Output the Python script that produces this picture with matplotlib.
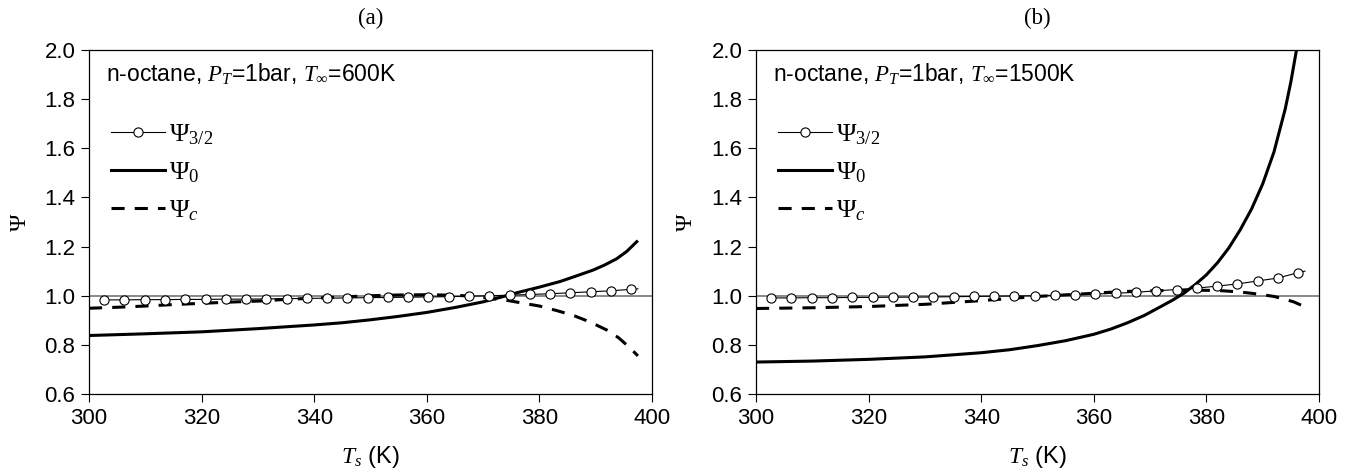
import numpy as np
import matplotlib
matplotlib.use("Agg")
import matplotlib.pyplot as plt

plt.rcParams["font.family"] = ["Liberation Sans", "DejaVu Sans"]
plt.rcParams["mathtext.fontset"] = "custom"
plt.rcParams["mathtext.rm"] = "Liberation Serif"
plt.rcParams["mathtext.it"] = "Liberation Serif:italic"
plt.rcParams["mathtext.bf"] = "Liberation Serif:bold"

# ---- data ----
# marker temperatures for Psi_3/2 (last point = line end, no marker)
t_circ = [302.7, 306.3, 309.9, 313.5, 317.1, 320.7, 324.3, 327.9, 331.5, 335.1,
          338.7, 342.3, 345.9, 349.5, 353.1, 356.7, 360.3, 363.9, 367.5, 371.1,
          374.7, 378.3, 381.9, 385.5, 389.1, 392.7, 396.3, 397.5]

psi32_a = [0.983, 0.983, 0.984, 0.984, 0.985, 0.985, 0.986, 0.986, 0.987, 0.988,
           0.989, 0.990, 0.991, 0.992, 0.993, 0.994, 0.995, 0.996, 0.998, 1.000,
           1.002, 1.005, 1.008, 1.012, 1.016, 1.020, 1.026, 1.028]
psi32_b = [0.991, 0.991, 0.992, 0.992, 0.993, 0.993, 0.994, 0.994, 0.995, 0.996,
           0.997, 0.998, 0.999, 1.000, 1.002, 1.004, 1.007, 1.010, 1.014, 1.020,
           1.025, 1.031, 1.039, 1.048, 1.060, 1.072, 1.094, 1.100]

t0_a = [300, 310, 320, 330, 340, 345, 350, 355, 360, 365, 370, 373, 376, 380,
        383.7, 386, 389.5, 391.5, 393.7, 395.5, 397.3]
psi0_a = [0.838, 0.845, 0.853, 0.866, 0.881, 0.890, 0.902, 0.916, 0.932, 0.952,
          0.975, 0.993, 1.012, 1.035, 1.058, 1.076, 1.104, 1.124, 1.150, 1.180,
          1.220]

t0_b = [300, 310, 320, 330, 340, 345, 350, 355, 360, 363, 366, 369, 372, 374,
        376, 378, 380, 382, 384, 386, 388, 390, 392, 394, 395, 396, 396.5]
psi0_b = [0.730, 0.734, 0.741, 0.751, 0.768, 0.780, 0.797, 0.817, 0.843, 0.864,
          0.890, 0.920, 0.957, 0.982, 1.010, 1.045, 1.085, 1.135, 1.195, 1.268,
          1.352, 1.455, 1.585, 1.760, 1.870, 2.000, 2.080]

tc_a = [300, 305, 310, 315, 320, 325, 330, 335, 340, 345, 350, 355, 360, 365,
        368, 371, 374, 377, 380, 383, 386, 389, 392, 394, 396, 397.5]
psic_a = [0.949, 0.953, 0.958, 0.964, 0.969, 0.974, 0.978, 0.985, 0.990, 0.995,
          1.000, 1.003, 1.004, 1.002, 0.998, 0.990, 0.982, 0.970, 0.958, 0.940,
          0.920, 0.893, 0.860, 0.830, 0.790, 0.755]

tc_b = [300, 310, 320, 330, 340, 350, 360, 365, 370, 375, 380, 383, 386, 388,
        390, 392, 394, 395.5, 397.5]
psic_b = [0.948, 0.951, 0.956, 0.965, 0.980, 0.997, 1.010, 1.017, 1.020, 1.022,
          1.022, 1.020, 1.015, 1.010, 1.004, 0.997, 0.985, 0.975, 0.955]

panels = [
    ("(a)", "600K", psi32_a, t0_a, psi0_a, tc_a, psic_a),
    ("(b)", "1500K", psi32_b, t0_b, psi0_b, tc_b, psic_b),
]

fig = plt.figure(figsize=(13.51, 4.73), dpi=100)
lefts = [89 / 1351, 756 / 1351]

for left, (tag, tinf, p32, t0, p0, tc, pc) in zip(lefts, panels):
    ax = fig.add_axes([left, 79 / 473, 563 / 1351, 344 / 473])
    ax.axhline(1.0, color="#808080", lw=1.3, zorder=1)
    ax.plot(t_circ, p32, color="black", lw=0.8, marker="o", ms=6.6,
            mfc="white", mec="black", mew=0.8, markevery=list(range(27)),
            label=r"$\Psi_{3/2}$", zorder=4)
    ax.plot(t0, p0, color="black", lw=2.2, label=r"$\Psi_0$", zorder=3)
    ax.plot(tc, pc, color="black", lw=2.2, dashes=(4.3, 3.3),
            label=r"$\Psi_c$", zorder=3)

    ax.set_xlim(300, 400)
    ax.set_ylim(0.6, 2.0)
    ax.set_xticks(np.arange(300, 401, 20))
    ax.set_yticks(np.arange(0.6, 2.01, 0.2))
    ax.yaxis.set_major_formatter(matplotlib.ticker.FormatStrFormatter("%.1f"))
    ax.tick_params(direction="out", length=5.8, width=0.8, labelsize=16,
                   pad=4, top=False, right=False)
    for sp in ax.spines.values():
        sp.set_linewidth(0.9)

    ax.set_xlabel(r"$T_s$ (K)", fontsize=17, labelpad=11)
    ax.set_ylabel(r"$\Psi$", fontsize=17, labelpad=10)
    ax.set_title(tag, fontsize=16.5, family="Liberation Serif", pad=19)

    ax.text(0.03, 0.93, r"n-octane, $P_T$=1bar, $T_\infty$=" + tinf,
            transform=ax.transAxes, fontsize=16.5, va="center", ha="left")

    ax.legend(loc="upper left", bbox_to_anchor=(0.02, 0.82), frameon=False,
              fontsize=19, handlelength=2.05, handletextpad=0.15,
              labelspacing=0.5, borderaxespad=0)

fig.savefig("out.png", dpi=100)
